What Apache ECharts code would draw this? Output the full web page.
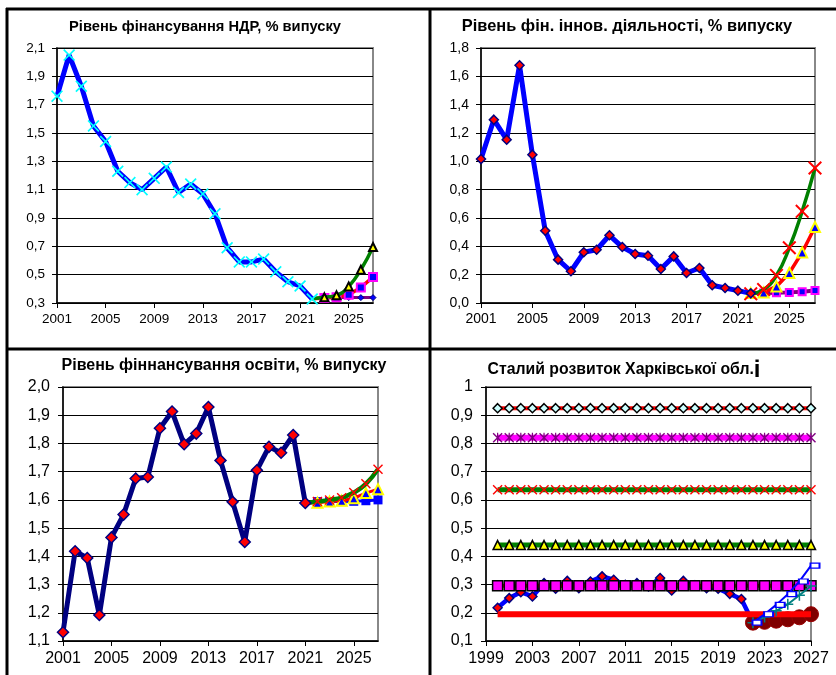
<!DOCTYPE html>
<html>
<head>
<meta charset="utf-8">
<script src="https://cdn.jsdelivr.net/npm/echarts@6/dist/echarts.min.js"></script>
<style>
  html, body { margin: 0; padding: 0; background: #fff; }
  #chart { width: 836px; height: 675px; }
</style>
</head>
<body>
<div id="chart"></div>
<script>
// categories
const yearsA = []
for (let y = 2001; y <= 2027; y++) yearsA.push(String(y))
const yearsB = []
for (let y = 1999; y <= 2027; y++) yearsB.push(String(y))

// Рівень фінансування НДР (2001-2022 факт, 2022-2027 прогнози)
const ndrMain = [1.76, 2.05, 1.83, 1.55, 1.44, 1.23, 1.15, 1.10, 1.18, 1.26, 1.08, 1.14, 1.07, 0.93, 0.69, 0.59, 0.59, 0.61, 0.52, 0.45, 0.42, 0.328]
const ndrGreen = [0.33, 0.34, 0.354, 0.417, 0.535, 0.695]
const ndrRed = [0.33, 0.335, 0.34, 0.359, 0.41, 0.483]
const ndrPurple = [0.33, 0.338, 0.338, 0.338, 0.338, 0.338]

// Рівень фін. іннов. діяльності (2001-2022, прогнози 2022-2027)
const innMain = [1.016, 1.294, 1.153, 1.678, 1.047, 0.51, 0.306, 0.224, 0.358, 0.376, 0.478, 0.395, 0.346, 0.334, 0.24, 0.329, 0.212, 0.247, 0.125, 0.106, 0.087, 0.068]
const innGreen = [0.065, 0.095, 0.195, 0.39, 0.647, 0.953]
const innRed = [0.07, 0.075, 0.117, 0.212, 0.357, 0.536]
const innPurple = [0.07, 0.07, 0.072, 0.075, 0.08, 0.089]

// Рівень фіннансування освіти (2001-2021, прогнози 2021-2027)
const eduMain = [1.131, 1.418, 1.394, 1.192, 1.467, 1.548, 1.676, 1.681, 1.854, 1.913, 1.797, 1.835, 1.929, 1.740, 1.593, 1.451, 1.705, 1.788, 1.767, 1.830, 1.589]
const eduGreen = [1.589, 1.594, 1.600, 1.608, 1.626, 1.657, 1.709]
const eduRed = [1.589, 1.59, 1.594, 1.597, 1.606, 1.624, 1.638]
const eduBlue = [1.589, 1.594, 1.594, 1.594, 1.595, 1.597, 1.6]

// Сталий розвиток (2000-2022, прогнози 2022-2027)
const sustMain = [0.218, 0.252, 0.273, 0.258, 0.305, 0.285, 0.313, 0.287, 0.311, 0.329, 0.317, 0.299, 0.305, 0.293, 0.323, 0.279, 0.313, 0.297, 0.287, 0.285, 0.267, 0.249, 0.165]
const sustLevels = [0.925, 0.82, 0.636, 0.44, 0.296, 0.195]
const sustBlue = [0.165, 0.195, 0.228, 0.266, 0.311, 0.367]
const sustTeal = [0.165, 0.185, 0.207, 0.23, 0.262, 0.295]
const sustCircles = [0.165, 0.168, 0.172, 0.177, 0.184, 0.195]

const FONT = 'Liberation Sans, Arial, sans-serif'
const CROSS = 'path://M1,0 L5,4 L9,0 L10,1 L6,5 L10,9 L9,10 L5,6 L1,10 L0,9 L4,5 L0,1 Z'
const PLUS = 'path://M4.3,0 L5.7,0 L5.7,4.3 L10,4.3 L10,5.7 L5.7,5.7 L5.7,10 L4.3,10 L4.3,5.7 L0,5.7 L0,4.3 L4.3,4.3 Z'
const STAR = 'path://M1,0 L5,4 L9,0 L10,1 L6,5 L10,9 L9,10 L5,6 L1,10 L0,9 L4,5 L0,1 Z M4.4,0 L5.6,0 L5.6,10 L4.4,10 Z'

// put values at position `start` of an array `total` long
const pad = (arr, start, total, hideFirst) => {
  const out = []
  for (let i = 0; i < total; i++) {
    const k = i - start
    if (k < 0 || k >= arr.length) out.push('-')
    else if (k === 0 && hideFirst) out.push({ value: arr[k], symbol: 'none' })
    else out.push(arr[k])
  }
  return out
}

const comma = (digits) => (v) => {
  if (digits === 0 && Math.abs(v - 1) < 1e-9) return '1'
  return v.toFixed(digits || 1).replace('.', ',')
}

const xAxis = (gi, data, size, margin) => ({
  type: 'category',
  gridIndex: gi,
  data: data,
  boundaryGap: false,
  axisLine: { lineStyle: { color: '#000', width: 1.5 } },
  axisTick: { interval: 3, length: 5, lineStyle: { color: '#000' } },
  axisLabel: { interval: 3, color: '#000', fontSize: size, fontFamily: FONT, margin: margin },
  splitLine: { show: false }
})

const yAxis = (gi, min, max, step, size, fmt, margin) => ({
  type: 'value',
  gridIndex: gi,
  min: min,
  max: max,
  interval: step,
  axisLine: { show: true, lineStyle: { color: '#000', width: 1.5 } },
  axisTick: { show: true, length: 5, lineStyle: { color: '#000' } },
  axisLabel: { color: '#000', fontSize: size, fontFamily: FONT, margin: margin, formatter: fmt },
  splitLine: { lineStyle: { color: '#000', width: 1 } }
})

const line = (gi, z, data, color, width, symbol, size, fill, border, bw, extra) => Object.assign({
  type: 'line',
  xAxisIndex: gi,
  yAxisIndex: gi,
  z: z,
  data: data,
  symbol: symbol,
  symbolSize: size,
  showAllSymbol: true,
  connectNulls: false,
  lineStyle: { color: color, width: width },
  itemStyle: { color: fill, borderColor: border, borderWidth: bw }
}, extra || {})

const nA = yearsA.length
const nB = yearsB.length
const flat = (v) => pad(new Array(28).fill(v), 1, nB)

const titleStyle = (size) => ({ fontSize: size, fontWeight: 'bold', color: '#000', fontFamily: FONT })

const option = {
  animation: false,
  backgroundColor: '#fff',
  title: [
    { text: 'Рівень фінансування НДР, % випуску', left: 200, top: 14, textAlign: 'center',
      textStyle: titleStyle(14.7) },
    { text: 'Рівень фін. іннов. діяльності, % випуску', left: 622, top: 13, textAlign: 'center',
      textStyle: titleStyle(16.4) },
    { text: 'Рівень фіннансування освіти, % випуску', left: 219, top: 353, textAlign: 'center',
      textStyle: titleStyle(16) },
    { text: '{a|Сталий розвиток Харківської обл.}{b|і}', left: 619, top: 353, textAlign: 'center',
      textStyle: {
        rich: {
          a: titleStyle(15.8),
          b: titleStyle(24)
        }
      } }
  ],
  grid: [
    { left: 57, top: 48, width: 316, height: 255, show: true, borderColor: '#888', borderWidth: 2 },
    { left: 481, top: 48, width: 334, height: 255, show: true, borderColor: '#888', borderWidth: 2 },
    { left: 63, top: 387, width: 315, height: 254, show: true, borderColor: '#888', borderWidth: 2 },
    { left: 486, top: 387, width: 325, height: 254, show: true, borderColor: '#888', borderWidth: 2 }
  ],
  xAxis: [
    xAxis(0, yearsA, 13.5, 9),
    xAxis(1, yearsA, 14, 9),
    xAxis(2, yearsA, 16, 10),
    xAxis(3, yearsB, 16, 10)
  ],
  yAxis: [
    yAxis(0, 0.3, 2.1, 0.2, 13.5, comma(1), 12),
    yAxis(1, 0, 1.8, 0.2, 14, comma(1), 12),
    yAxis(2, 1.1, 2.0, 0.1, 16, comma(1), 13),
    yAxis(3, 0.1, 1.0, 0.1, 16, comma(0), 13)
  ],
  series: [
    // panel 1
    line(0, 2, pad(ndrPurple, 21, nA, true), '#800080', 3, 'diamond', 6, '#0000FF', '#000080', 1),
    line(0, 3, pad(ndrRed, 21, nA, true), '#FF0000', 3.5, 'rect', 8, '#0000FF', '#FF00FF', 2),
    line(0, 4, pad(ndrGreen, 21, nA, true), '#008000', 3.5, 'triangle', 8, '#FFFF00', '#000', 2, { smooth: true }),
    line(0, 5, pad(ndrMain, 0, nA), '#0000FF', 5, CROSS, 12, '#00FFFF', '#00FFFF', 0),

    // panel 2
    line(1, 2, pad(innPurple, 21, nA, true), '#800080', 4, 'rect', 7, '#0000FF', '#FF00FF', 2),
    line(1, 3, pad(innRed, 21, nA), '#FF0000', 3.5, 'triangle', 10, '#0000FF', '#FFFF00', 2),
    line(1, 4, pad(innGreen, 21, nA), '#008000', 3.5, CROSS, 14, '#FF0000', '#FF0000', 0, { smooth: true }),
    line(1, 5, pad(innMain, 0, nA), '#0000FF', 5, 'diamond', 9, '#FF0000', '#000080', 1.5),

    // panel 3
    line(2, 2, pad(eduBlue, 20, nA, true), '#0000FF', 3, 'rect', 9, '#0000FF', '#0000FF', 0),
    line(2, 3, pad(eduRed, 20, nA, true), '#FF0000', 3, 'triangle', 10, '#0000FF', '#FFFF00', 2),
    line(2, 4, pad(eduGreen, 20, nA, true), '#008000', 4.5, CROSS, 10, '#FF0000', '#FF0000', 0, { smooth: true }),
    line(2, 5, pad(eduMain, 0, nA), '#000080', 5, 'diamond', 11, '#FF0000', '#000080', 1.5),

    // panel 4
    line(3, 2, pad(sustMain, 1, nB), '#0000FF', 4.5, 'diamond', 9, '#FF0000', '#000080', 1.5),
    line(3, 3, flat(sustLevels[4]), '#FF0000', 4, 'rect', 10, '#FF00FF', '#000', 1.5),
    line(3, 3, flat(sustLevels[3]), '#008000', 5, 'triangle', 9, '#FFFF00', '#000', 1.5),
    line(3, 3, flat(sustLevels[2]), '#008000', 5, CROSS, 10, '#FF0000', '#FF0000', 0),
    line(3, 3, flat(sustLevels[1]), '#FF00FF', 6, STAR, 10, '#800080', '#800080', 0),
    line(3, 3, flat(sustLevels[0]), '#FF0000', 4, 'diamond', 9, '#CCFFFF', '#000', 1.5),
    line(3, 4, pad(sustCircles, 23, nB), '#800000', 3, 'circle', 15, '#800000', '#990000', 1),
    line(3, 5, flat(sustLevels[5]), '#FF0000', 6, 'none', 0, '#FF0000', '#FF0000', 0, { zlevel: 1 }),
    line(3, 6, pad(sustTeal, 23, nB), '#008080', 2, PLUS, 11, '#008080', '#008080', 0, { zlevel: 1 }),
    line(3, 7, pad(sustBlue, 23, nB), '#0000FF', 2, 'rect', [9, 5], '#FFFFFF', '#0000FF', 1.5, { zlevel: 1, symbolOffset: [4, 0] })
  ],
  graphic: [
    { type: 'line', shape: { x1: 6, y1: 9, x2: 836, y2: 9 }, style: { stroke: '#000', lineWidth: 3 } },
    { type: 'line', shape: { x1: 7, y1: 8, x2: 7, y2: 675 }, style: { stroke: '#000', lineWidth: 3 } },
    { type: 'line', shape: { x1: 430, y1: 8, x2: 430, y2: 675 }, style: { stroke: '#000', lineWidth: 3 } },
    { type: 'line', shape: { x1: 6, y1: 349, x2: 836, y2: 349 }, style: { stroke: '#000', lineWidth: 3 } }
  ]
}

const chart = echarts.init(document.getElementById('chart'))
chart.setOption(option)
</script>
</body>
</html>
